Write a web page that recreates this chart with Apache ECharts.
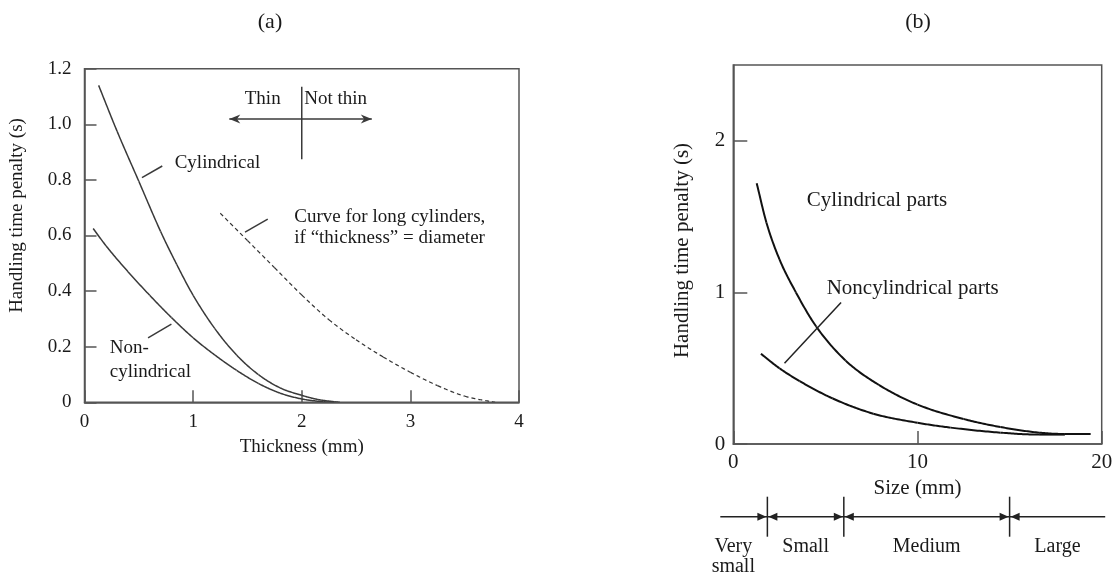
<!DOCTYPE html>
<html>
<head>
<meta charset="utf-8">
<script src="https://cdn.jsdelivr.net/npm/echarts@6/dist/echarts.min.js"></script>
<style>
html,body{margin:0;padding:0;background:#fff;}
#chart{width:1117px;height:572px;}
</style>
</head>
<body>
<div id="chart"></div>
<script>
// ---------- Data ----------
// Panel (a): handling time penalty (s) vs thickness (mm)
const aCylX    = [0.13, 0.3, 0.5, 0.7, 0.85, 1.0, 1.2, 1.4, 1.6, 1.8, 2.0, 2.15, 2.3, 2.35];
const aCylY    = [1.14, 0.975, 0.795, 0.615, 0.495, 0.385, 0.265, 0.17, 0.1, 0.052, 0.025, 0.01, 0.002, 0];
const aNonX    = [0.08, 0.2, 0.4, 0.6, 0.8, 1.0, 1.2, 1.4, 1.6, 1.8, 2.0, 2.2, 2.3];
const aNonY    = [0.625, 0.562, 0.47, 0.385, 0.305, 0.232, 0.17, 0.115, 0.068, 0.033, 0.012, 0.002, 0];
const aLongX   = [1.25, 1.5, 1.75, 2.0, 2.25, 2.5, 2.75, 3.0, 3.25, 3.5, 3.75, 3.78];
const aLongY   = [0.68, 0.582, 0.484, 0.386, 0.297, 0.225, 0.163, 0.108, 0.06, 0.022, 0.002, 0];
const aXTicks  = ['0', '1', '2', '3', '4'];
const aYTicks  = ['0', '0.2', '0.4', '0.6', '0.8', '1.0', '1.2'];
const thinLimit = 2; // thickness (mm) dividing thin / not thin

// Panel (b): handling time penalty (s) vs size (mm)
const bCylX    = [1.27, 1.8, 2.5, 3.4, 4.5, 6.1, 7.9, 10, 12.5, 14.5, 16.6, 18, 19.4];
const bCylY    = [1.72, 1.46, 1.22, 1.0, 0.775, 0.55, 0.39, 0.26, 0.165, 0.112, 0.075, 0.066, 0.066];
const bNonX    = [1.5, 2.5, 3.6, 5.4, 7.6, 10, 11.8, 14.5, 16.6, 18];
const bNonY    = [0.595, 0.5, 0.415, 0.3, 0.2, 0.14, 0.108, 0.075, 0.062, 0.062];
const sizeBounds = [1.85, 6, 15];
const sizeCategories = ['Very\nsmall', 'Small', 'Medium', 'Large'];

const zip = (xs, ys) => xs.map((x, i) => [x, ys[i]]);

// ---------- Styles ----------
const FONT = '"Liberation Serif", "DejaVu Serif", serif';
const TXT = '#1a1a1a';
const FRAME = '#555';

const chart = echarts.init(document.getElementById('chart'), null, {renderer: 'canvas'});

function txt(x, y, text, size, align) {
  return {
    type: 'text', x: x, y: y,
    style: {text: text, fill: TXT, font: size + 'px ' + FONT, textAlign: align || 'left', textVerticalAlign: 'middle'}
  };
}

// Monotone cubic (Fritsch-Carlson) tangents, used only to draw a smooth stroke between read points
function monoTangents(xs, ys) {
  const n = xs.length, d = [], m = [];
  for (let i = 0; i < n - 1; i++) d.push((ys[i + 1] - ys[i]) / (xs[i + 1] - xs[i]));
  m[0] = d[0]; m[n - 1] = d[n - 2];
  for (let i = 1; i < n - 1; i++) m[i] = (d[i - 1] * d[i] <= 0) ? 0 : (d[i - 1] + d[i]) / 2;
  for (let i = 0; i < n - 1; i++) {
    if (d[i] === 0) { m[i] = 0; m[i + 1] = 0; continue; }
    const a = m[i] / d[i], b = m[i + 1] / d[i], s = a * a + b * b;
    if (s > 9) { const t = 3 / Math.sqrt(s); m[i] = t * a * d[i]; m[i + 1] = t * b * d[i]; }
  }
  return m;
}

function curveSeries(name, xs, ys, axis, style) {
  const m = monoTangents(xs, ys);
  return {
    name: name, type: 'custom', xAxisIndex: axis, yAxisIndex: axis,
    data: zip(xs, ys), clip: true, silent: true,
    encode: {x: 0, y: 1},
    renderItem: function (params, api) {
      const i = params.dataIndex;
      if (i >= xs.length - 1) return null;
      const x0 = xs[i], x1 = xs[i + 1], y0 = ys[i], y1 = ys[i + 1], h = x1 - x0;
      const pts = [];
      const N = 24;
      for (let k = 0; k <= N; k++) {
        const t = k / N, t2 = t * t, t3 = t2 * t;
        const y = (2 * t3 - 3 * t2 + 1) * y0 + (t3 - 2 * t2 + t) * h * m[i] + (-2 * t3 + 3 * t2) * y1 + (t3 - t2) * h * m[i + 1];
        pts.push(api.coord([x0 + t * h, y]));
      }
      return {type: 'polyline', shape: {points: pts}, style: Object.assign({fill: null}, style)};
    }
  };
}

// Leader lines / guide marks, in data coordinates: [x1, y1, x2, y2, arrowheads]
function annotationSeries(axis, segs, color) {
  return {
    name: 'annotations', type: 'custom', xAxisIndex: axis, yAxisIndex: axis,
    data: segs, clip: false, silent: true,
    renderItem: function (params, api) {
      const s = segs[params.dataIndex];
      const p1 = api.coord([s[0], s[1]]), p2 = api.coord([s[2], s[3]]);
      const children = [{type: 'line', shape: {x1: p1[0], y1: p1[1], x2: p2[0], y2: p2[1]}, style: {stroke: color, lineWidth: 1.5}}];
      if (s[4]) {
        [[p1, p2], [p2, p1]].forEach(function (pair) {
          const tip = pair[0], from = pair[1];
          const dx = tip[0] - from[0], dy = tip[1] - from[1], L = Math.hypot(dx, dy);
          const ux = dx / L, uy = dy / L, L2 = 11, W = 4.5;
          children.push({type: 'polygon', shape: {points: [
            [tip[0], tip[1]],
            [tip[0] - ux * L2 - uy * W, tip[1] - uy * L2 + ux * W],
            [tip[0] - ux * L2 * 0.7, tip[1] - uy * L2 * 0.7],
            [tip[0] - ux * L2 + uy * W, tip[1] - uy * L2 - ux * W]
          ]}, style: {fill: color}});
        });
      }
      return {type: 'group', children: children};
    }
  };
}

const option = {
  animation: false,
  backgroundColor: '#fff',
  grid: [
    {left: 84.5, top: 68.7, width: 434.5, height: 333.6, show: true, borderColor: FRAME, borderWidth: 1.5, backgroundColor: 'transparent'},
    {left: 733.3, top: 65, width: 368.4, height: 379, show: true, borderColor: FRAME, borderWidth: 1.5, backgroundColor: 'transparent'}
  ],
  xAxis: [
    {
      gridIndex: 0, type: 'value', min: 0, max: 4, interval: 1,
      name: 'Thickness (mm)', nameLocation: 'middle', nameGap: 35,
      nameTextStyle: {fontFamily: FONT, fontSize: 19, color: TXT},
      axisLine: {show: true, lineStyle: {color: FRAME, width: 1.5}},
      axisTick: {show: true, inside: true, length: 12, lineStyle: {color: FRAME, width: 1.5}},
      axisLabel: {fontFamily: FONT, fontSize: 19, color: TXT, margin: 10,
        formatter: (v) => aXTicks[Math.round(v)]},
      splitLine: {show: false}
    },
    {
      gridIndex: 1, type: 'value', min: 0, max: 20, interval: 10,
      name: 'Size (mm)', nameLocation: 'middle', nameGap: 30,
      nameTextStyle: {fontFamily: FONT, fontSize: 21, color: TXT},
      axisLine: {show: true, lineStyle: {color: FRAME, width: 1.5}},
      axisTick: {show: true, inside: true, length: 13, lineStyle: {color: FRAME, width: 1.5}},
      axisLabel: {fontFamily: FONT, fontSize: 21, color: TXT, margin: 8},
      splitLine: {show: false}
    }
  ],
  yAxis: [
    {
      gridIndex: 0, type: 'value', min: 0, max: 1.2, interval: 0.2,
      name: 'Handling time penalty (s)', nameLocation: 'middle', nameGap: 58,
      nameTextStyle: {fontFamily: FONT, fontSize: 19, color: TXT, padding: [0, 0, 0, 40]},
      axisLine: {show: true, lineStyle: {color: FRAME, width: 1.5}},
      axisTick: {show: true, inside: true, length: 12, lineStyle: {color: FRAME, width: 1.5}},
      axisLabel: {fontFamily: FONT, fontSize: 19, color: TXT, margin: 13,
        formatter: (v) => aYTicks[Math.round(v * 5)]},
      splitLine: {show: false}
    },
    {
      gridIndex: 1, type: 'value', min: 0, max: 2.5, interval: 1,
      name: 'Handling time penalty (s)', nameLocation: 'middle', nameGap: 40,
      nameTextStyle: {fontFamily: FONT, fontSize: 21, color: TXT, padding: [0, 0, 0, 8]},
      axisLine: {show: true, lineStyle: {color: FRAME, width: 1.5}},
      axisTick: {show: true, inside: true, length: 14, lineStyle: {color: FRAME, width: 1.5}},
      axisLabel: {fontFamily: FONT, fontSize: 21, color: TXT, margin: 8, showMaxLabel: false},
      splitLine: {show: false}
    }
  ],
  series: [
    curveSeries('Cylindrical', aCylX, aCylY, 0, {stroke: '#3a3a3a', lineWidth: 1.5}),
    curveSeries('Non-cylindrical', aNonX, aNonY, 0, {stroke: '#3a3a3a', lineWidth: 1.5}),
    curveSeries('Curve for long cylinders', aLongX, aLongY, 0, {stroke: '#333', lineWidth: 1.2, lineDash: [4, 3]}),
    curveSeries('Cylindrical parts', bCylX, bCylY, 1, {stroke: '#111', lineWidth: 2}),
    curveSeries('Noncylindrical parts', bNonX, bNonY, 1, {stroke: '#111', lineWidth: 2}),
    annotationSeries(0, [
      [0.529, 0.808, 0.716, 0.85, false],
      [0.585, 0.232, 0.8, 0.281, false],
      [1.478, 0.612, 1.687, 0.659, false],
      [thinLimit, 1.135, thinLimit, 0.874, false],
      [1.333, 1.019, 2.645, 1.019, true]
    ], '#3a3a3a'),
    annotationSeries(1, [
      [2.78, 0.533, 5.85, 0.934, false]
    ], '#222'),
    {
      name: 'Size classes', type: 'custom', xAxisIndex: 1, yAxisIndex: 1,
      clip: false, silent: true,
      data: [[0, 0]],
      renderItem: function (params, api) {
        const base = api.coord([0, 0]);
        const yBar = base[1] + 72.7;
        const xl = base[0] - 13;
        const xr = api.coord([20, 0])[0] + 3.5;
        const stroke = {stroke: '#222', lineWidth: 1.5};
        const children = [
          {type: 'line', shape: {x1: xl, y1: yBar, x2: xr, y2: yBar}, style: stroke}
        ];
        sizeBounds.forEach(function (b) {
          const x = api.coord([b, 0])[0];
          children.push({type: 'line', shape: {x1: x, y1: yBar - 20, x2: x, y2: yBar + 20}, style: stroke});
          children.push({type: 'polygon', shape: {points: [[x - 1, yBar], [x - 10, yBar - 4], [x - 10, yBar + 4]]}, style: {fill: '#222'}});
          children.push({type: 'polygon', shape: {points: [[x + 1, yBar], [x + 10, yBar - 4], [x + 10, yBar + 4]]}, style: {fill: '#222'}});
        });
        const edges = [0].concat(sizeBounds).concat([20.2]);
        sizeCategories.forEach(function (name, i) {
          let cx;
          if (i === 0) cx = api.coord([0, 0])[0];
          else cx = (api.coord([edges[i], 0])[0] + api.coord([edges[i + 1], 0])[0]) / 2;
          children.push({
            type: 'text', x: cx, y: yBar + 20,
            style: {text: name, fill: TXT, font: '20px ' + FONT, textAlign: 'center', textVerticalAlign: 'top', lineHeight: 20}
          });
        });
        return {type: 'group', children: children};
      }
    }
  ],
  graphic: [
    txt(270, 22, '(a)', 22, 'center'),
    txt(918, 22, '(b)', 22, 'center'),
    txt(262.7, 99.3, 'Thin', 19, 'center'),
    txt(304.3, 99.3, 'Not thin', 19, 'left'),
    txt(174.7, 162.7, 'Cylindrical', 19, 'left'),
    txt(109.7, 348.3, 'Non-', 19, 'left'),
    txt(109.7, 371.7, 'cylindrical', 19, 'left'),
    txt(294.3, 216.7, 'Curve for long cylinders,', 19, 'left'),
    txt(294.3, 238.3, 'if \u201cthickness\u201d = diameter', 19, 'left'),
    txt(806.7, 200, 'Cylindrical parts', 21, 'left'),
    txt(826.7, 288.3, 'Noncylindrical parts', 21, 'left')
  ]
};

chart.setOption(option);
</script>
</body>
</html>
